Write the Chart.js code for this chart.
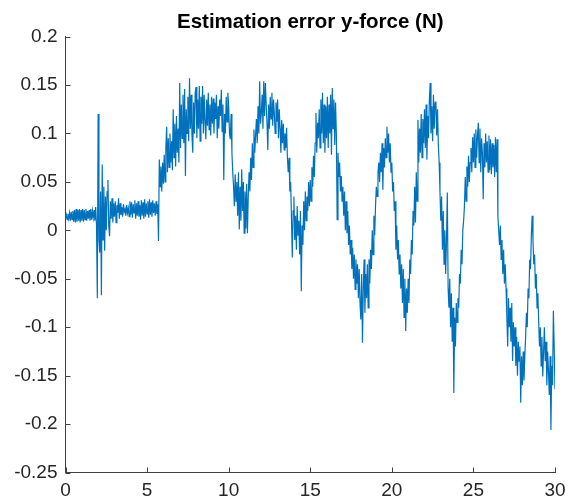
<!DOCTYPE html>
<html>
<head>
<meta charset="utf-8">
<script src="https://cdn.jsdelivr.net/npm/chart.js@4.4.1/dist/chart.umd.min.js"></script>
<style>
  html, body { margin: 0; padding: 0; background: #ffffff; }
  #wrap { width: 578px; height: 502px; }
</style>
</head>
<body>
<div id="wrap"><canvas id="chart" width="578" height="502"></canvas></div>
<script>
// Estimation error of the y-force (N) over a 30 s run, sampled at 20 Hz.
const chartTitle = 'Estimation error y-force (N)';
const xTickValues = [0, 5, 10, 15, 20, 25, 30];
const yTickValues = [-0.25, -0.2, -0.15, -0.1, -0.05, 0, 0.05, 0.1, 0.15, 0.2];
const samplesPerSecond = 20;

// One row per second of recording (20 samples each).
const errorBySecond = [
  [0.013, 0.016, 0.011, 0.017, 0.012, 0.018, 0.010, 0.019, 0.011, 0.020, 0.009, 0.021, 0.008, 0.022, 0.009, 0.021, 0.010, 0.022, 0.008, 0.021],
  [0.010, 0.022, 0.009, 0.021, 0.011, 0.022, 0.010, 0.020, 0.012, 0.021, 0.010, 0.022, 0.011, 0.020, 0.013, 0.021, 0.010, 0.024, 0.006, -0.070],
  [0.120, -0.010, -0.023, 0.040, -0.067, 0.068, -0.010, 0.045, -0.021, 0.035, 0.000, 0.040, 0.052, 0.005, -0.006, 0.030, 0.012, 0.033, 0.008, 0.028],
  [0.014, 0.030, 0.008, 0.026, 0.018, 0.033, 0.012, 0.028, 0.016, 0.024, 0.014, 0.027, 0.019, 0.022, 0.015, 0.026, 0.018, 0.023, 0.014, 0.030],
  [0.016, 0.029, 0.013, 0.027, 0.018, 0.031, 0.012, 0.028, 0.015, 0.030, 0.014, 0.026, 0.011, 0.031, 0.015, 0.029, 0.012, 0.032, 0.014, 0.028],
  [0.017, 0.030, 0.013, 0.032, 0.016, 0.029, 0.014, 0.031, 0.018, 0.028, 0.015, 0.030, 0.017, 0.027, -0.011, 0.073, 0.045, 0.066, 0.040, 0.070],
  [0.048, 0.078, 0.050, 0.085, 0.107, 0.060, 0.095, 0.065, 0.100, 0.070, 0.092, 0.062, 0.125, 0.075, 0.110, 0.066, 0.118, 0.080, 0.105, 0.070],
  [0.152, 0.085, 0.130, 0.095, 0.140, 0.090, 0.146, 0.056, 0.125, 0.100, 0.138, 0.092, 0.157, 0.105, 0.140, 0.098, 0.080, 0.132, 0.100, 0.142],
  [0.148, 0.095, 0.135, 0.105, 0.149, 0.092, 0.138, 0.110, 0.149, 0.100, 0.140, 0.112, 0.094, 0.135, 0.108, 0.142, 0.104, 0.130, 0.098, 0.138],
  [0.110, 0.136, 0.100, 0.132, 0.115, 0.140, 0.095, 0.128, 0.105, 0.135, 0.118, 0.145, 0.102, 0.130, 0.052, 0.120, 0.100, 0.138, 0.112, 0.142],
  [0.128, 0.100, 0.094, 0.120, 0.080, 0.060, 0.045, 0.025, 0.058, 0.030, 0.050, 0.015, 0.060, 0.001, 0.045, 0.010, 0.063, 0.020, 0.050, -0.003],
  [0.040, 0.002, 0.048, -0.003, 0.035, 0.060, 0.040, 0.075, 0.052, 0.090, 0.065, 0.104, 0.080, 0.098, 0.115, 0.090, 0.128, 0.100, 0.154, 0.110],
  [0.120, 0.140, 0.105, 0.154, 0.118, 0.152, 0.130, 0.110, 0.083, 0.130, 0.105, 0.138, 0.115, 0.142, 0.108, 0.135, 0.120, 0.100, 0.132, 0.112],
  [0.135, 0.095, 0.125, 0.105, 0.080, 0.114, 0.090, 0.110, 0.083, 0.100, 0.085, 0.106, 0.075, 0.060, 0.075, 0.040, 0.050, 0.011, -0.028, 0.020],
  [0.035, -0.010, 0.015, -0.020, 0.025, -0.005, 0.010, -0.025, 0.020, -0.063, 0.005, -0.015, 0.030, 0.000, 0.040, 0.010, 0.035, 0.020, 0.050, 0.025],
  [0.052, 0.030, 0.065, 0.045, 0.077, 0.055, 0.090, 0.121, 0.080, 0.111, 0.095, 0.125, 0.085, 0.135, 0.100, 0.142, 0.090, 0.130, 0.080, 0.128],
  [0.095, 0.138, 0.085, 0.130, 0.100, 0.140, 0.078, 0.147, 0.105, 0.135, 0.088, 0.132, 0.100, 0.011, 0.080, 0.055, 0.070, 0.040, 0.056, 0.030],
  [0.045, 0.015, 0.040, 0.000, 0.030, -0.003, 0.020, -0.015, 0.005, -0.025, -0.010, -0.040, -0.018, -0.050, -0.025, -0.061, -0.030, -0.055, -0.035, -0.070],
  [-0.040, -0.075, -0.092, -0.045, -0.116, -0.060, -0.030, -0.085, -0.045, -0.070, -0.035, -0.080, -0.030, -0.055, -0.020, -0.040, 0.000, -0.025, 0.015, -0.005],
  [0.025, 0.045, 0.035, 0.060, 0.070, 0.050, 0.080, 0.060, 0.090, 0.042, 0.085, 0.065, 0.095, 0.075, 0.107, 0.080, 0.100, 0.070, 0.090, 0.060],
  [0.070, 0.040, 0.050, 0.020, 0.030, -0.020, 0.005, -0.030, -0.010, -0.045, -0.025, -0.060, -0.035, -0.075, -0.040, -0.090, -0.050, -0.104, -0.060, -0.085],
  [-0.050, -0.075, -0.030, -0.045, -0.010, -0.025, 0.020, 0.005, 0.045, 0.008, 0.060, 0.030, 0.114, 0.070, 0.105, 0.080, 0.120, 0.075, 0.115, 0.090],
  [0.125, 0.085, 0.130, 0.073, 0.118, 0.095, 0.135, 0.152, 0.100, 0.128, 0.092, 0.140, 0.105, 0.132, 0.133, 0.098, 0.125, 0.088, 0.070, 0.040],
  [0.010, 0.035, -0.020, 0.020, -0.035, 0.000, -0.045, -0.010, 0.039, -0.060, -0.080, -0.050, -0.100, -0.065, -0.115, -0.080, -0.168, -0.090, -0.120, -0.075],
  [-0.095, -0.070, -0.080, -0.045, -0.055, -0.020, -0.035, 0.000, 0.010, 0.025, 0.055, 0.030, 0.066, 0.045, 0.077, 0.050, 0.070, 0.085, 0.060, 0.096],
  [0.070, 0.100, 0.065, 0.104, 0.075, 0.098, 0.111, 0.070, 0.105, 0.060, 0.095, 0.080, 0.032, 0.090, 0.065, 0.100, 0.070, 0.092, 0.060, 0.098],
  [0.062, 0.094, 0.058, 0.090, 0.065, 0.088, 0.055, 0.096, 0.060, 0.094, 0.015, 0.000, -0.015, 0.005, -0.030, -0.010, -0.045, -0.020, -0.055, -0.035],
  [-0.060, -0.090, -0.120, -0.070, -0.100, -0.080, -0.115, -0.075, -0.135, -0.095, -0.120, -0.100, -0.140, -0.110, -0.150, -0.115, -0.135, -0.120, -0.178, -0.130],
  [-0.160, -0.125, -0.155, -0.130, -0.110, -0.085, -0.100, -0.060, -0.070, -0.030, -0.040, -0.005, 0.015, -0.010, -0.035, -0.025, -0.060, -0.045, -0.080, -0.065],
  [-0.095, -0.120, -0.100, -0.140, -0.110, -0.151, -0.125, -0.100, -0.135, -0.115, -0.160, -0.125, -0.145, -0.170, -0.130, -0.206, -0.140, -0.160, -0.083, -0.120]
];
// Last sample, at t = 30 s.
const finalSample = { t: 30, value: -0.164 };

const points = [];
errorBySecond.forEach((row, second) => {
  row.forEach((value, k) => points.push({ x: second + k / samplesPerSecond, y: value }));
});
points.push({ x: finalSample.t, y: finalSample.value });

const FONT = "'Liberation Sans', Arial, Helvetica, sans-serif";
const AXIS_COLOR = '#404040';
const TEXT_COLOR = '#262626';

// MATLAB-style tick marks pointing into the axes.
const inwardTicks = {
  id: 'inwardTicks',
  beforeDatasetsDraw(chart) {
    const { ctx, chartArea, scales } = chart;
    const xs = scales.x, ys = scales.y;
    ctx.save();
    ctx.strokeStyle = AXIS_COLOR;
    ctx.lineWidth = 1;
    ctx.beginPath();
    xs.ticks.forEach(t => {
      const px = Math.round(xs.getPixelForValue(t.value)) + 0.5;
      ctx.moveTo(px, chartArea.bottom);
      ctx.lineTo(px, chartArea.bottom - 5);
    });
    ys.ticks.forEach(t => {
      const py = Math.round(ys.getPixelForValue(t.value)) + 0.5;
      ctx.moveTo(chartArea.left, py);
      ctx.lineTo(chartArea.left + 5, py);
    });
    ctx.stroke();
    ctx.restore();
  }
};

const tickFormat = v => String(+Number(v).toFixed(2));

new Chart(document.getElementById('chart'), {
  type: 'line',
  data: {
    datasets: [{
      data: points,
      borderColor: '#0072BD',
      borderWidth: 1.2,
      pointRadius: 0,
      tension: 0,
      fill: false
    }]
  },
  options: {
    responsive: false,
    devicePixelRatio: 1,
    animation: false,
    events: [],
    layout: { padding: { left: 0, right: 23, top: 0, bottom: 0 } },
    plugins: {
      legend: { display: false },
      tooltip: { enabled: false },
      title: {
        display: true,
        fullSize: false,
        text: chartTitle,
        color: '#000000',
        font: { family: FONT, size: 20.5, weight: 'bold' },
        padding: { top: 10, bottom: 2 }
      }
    },
    scales: {
      x: {
        type: 'linear',
        min: 0,
        max: 30,
        afterBuildTicks: s => { s.ticks = xTickValues.map(v => ({ value: v })); },
        afterFit: s => { s.height = 29.5; s.paddingLeft = 0; s.paddingRight = 0; },
        grid: { display: true, drawOnChartArea: false, drawTicks: false },
        border: { display: true, color: AXIS_COLOR, width: 1 },
        ticks: {
          padding: 7,
          maxRotation: 0,
          autoSkip: false,
          color: TEXT_COLOR,
          font: { family: FONT, size: 19 },
          callback: tickFormat
        }
      },
      y: {
        type: 'linear',
        min: -0.25,
        max: 0.2,
        afterBuildTicks: s => { s.ticks = yTickValues.map(v => ({ value: v })); },
        afterFit: s => { s.width = 65.5; s.paddingTop = 0; s.paddingBottom = 0; },
        grid: { display: true, drawOnChartArea: false, drawTicks: false },
        border: { display: true, color: AXIS_COLOR, width: 1 },
        ticks: {
          padding: 8,
          autoSkip: false,
          color: TEXT_COLOR,
          font: { family: FONT, size: 19 },
          callback: tickFormat
        }
      }
    }
  },
  plugins: [inwardTicks]
});
</script>
</body>
</html>
